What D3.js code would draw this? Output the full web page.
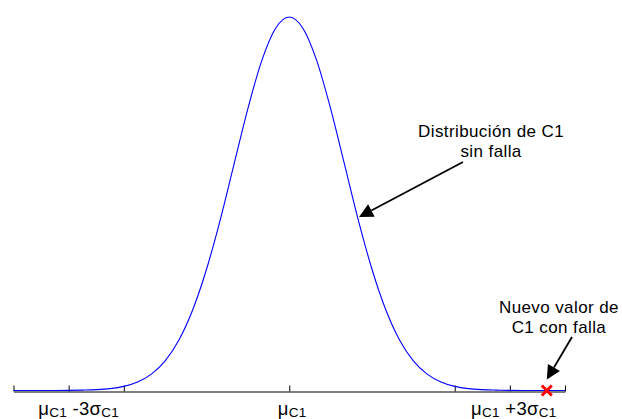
<!DOCTYPE html>
<html>
<head>
<meta charset="utf-8">
<script src="https://cdn.jsdelivr.net/npm/d3@7"></script>
<style>
  html, body { margin: 0; padding: 0; background: #fff; }
  svg { display: block; font-family: "Liberation Sans", Arial, sans-serif; }
</style>
</head>
<body>
<svg id="chart" width="622" height="419"></svg>
<script>
// Standardised value of C1 (in units of sigma) and its density
const zValues = [-5, -4.75, -4.5, -4.25, -4, -3.75, -3.5, -3.25, -3, -2.75, -2.5, -2.25, -2, -1.75, -1.5, -1.25, -1, -0.75, -0.5, -0.25,
                 0, 0.25, 0.5, 0.75, 1, 1.25, 1.5, 1.75, 2, 2.25, 2.5, 2.75, 3, 3.25, 3.5, 3.75, 4, 4.25, 4.5, 4.75, 5];
const densityValues = [0, 0, 0, 0, 0.0001, 0.0004, 0.0009, 0.0020, 0.0044, 0.0091, 0.0175, 0.0317, 0.0540, 0.0863, 0.1295, 0.1826, 0.2420, 0.3011, 0.3521, 0.3867,
                       0.3989, 0.3867, 0.3521, 0.3011, 0.2420, 0.1826, 0.1295, 0.0863, 0.0540, 0.0317, 0.0175, 0.0091, 0.0044, 0.0020, 0.0009, 0.0004, 0.0001, 0, 0, 0, 0];

// Axis
const xDomain = [-5, 5];
const yDomain = [0, 0.4];
const tickValues = [-5, -4, -3, 0, 3, 4, 5];
// tick captions: [main symbol, subscript, operator+number, symbol, subscript]
const tickLabelAt = [-4, 0, 4];
const tickLabelParts = [
  ["μ", "C1", " -3σ", "C1"],
  ["μ", "C1", "", ""],
  ["μ", "C1", " +3σ", "C1"]
];

// Faulty measurement of C1
const faultValue = 4.67;

// Annotations
const curveNote = { lines: ["Distribución de C1", "sin falla"], x: 3.66, y: 0.2708, from: [3.15, 0.244], to: [1.265, 0.1853] };
const faultNote = { lines: ["Nuevo valor de", "C1 con falla"], x: 4.89, y: 0.0827, from: [5.127, 0.0571] };

const svg = d3.select("#chart");

const x = d3.scaleLinear().domain(xDomain).range([13.5, 565]);
const y = d3.scaleLinear().domain(yDomain).range([390.5, 16]);

// x axis with inward ticks
const axisG = svg.append("g")
  .attr("transform", "translate(0,391.5)")
  .call(d3.axisBottom(x).tickValues(tickValues).tickSizeInner(-6).tickSizeOuter(0).tickFormat(""));
axisG.select(".domain").attr("stroke", "#000").attr("stroke-width", 1);
axisG.selectAll(".tick line").attr("stroke", "#000").attr("stroke-width", 1);

// density curve
const line = d3.line()
  .x((d, i) => x(zValues[i]))
  .y(d => y(d))
  .curve(d3.curveMonotoneX);

svg.append("path")
  .datum(densityValues)
  .attr("d", line)
  .attr("fill", "none")
  .attr("stroke", "#0000ff")
  .attr("stroke-width", 1.1);

// tick captions with subscripts
const labelNudge = [10, 3, 4];
tickLabelAt.forEach((v, i) => {
  const p = tickLabelParts[i];
  const t = svg.append("text")
    .attr("x", x(v) + labelNudge[i])
    .attr("y", 415)
    .attr("text-anchor", "middle")
    .attr("font-size", 18.5)
    .attr("letter-spacing", 0.3)
    .attr("fill", "#000");
  t.append("tspan").text(p[0]);
  t.append("tspan").attr("font-size", 13.5).attr("dy", 2).text(p[1]);
  if (p[2]) {
    t.append("tspan").attr("dy", -2).text(p[2]);
    t.append("tspan").attr("font-size", 13.5).attr("dy", 2).text(p[3]);
  }
});

// arrow helper: black line with filled triangular head at the tip
function arrow(x0, y0, x1, y1) {
  const dx = x0 - x1, dy = y0 - y1;
  const len = Math.hypot(dx, dy);
  const ux = dx / len, uy = dy / len;
  const L = 14, W = 7;
  const bx = x1 + ux * L, by = y1 + uy * L;
  svg.append("line")
    .attr("x1", x0).attr("y1", y0).attr("x2", bx).attr("y2", by)
    .attr("stroke", "#000").attr("stroke-width", 1.8);
  svg.append("path")
    .attr("d", `M${x1},${y1}L${bx - uy * W},${by + ux * W}L${bx + uy * W},${by - ux * W}Z`)
    .attr("fill", "#000");
}

function note(n) {
  const t = svg.append("text")
    .attr("text-anchor", "middle")
    .attr("font-size", 17)
    .attr("letter-spacing", 0.4)
    .attr("fill", "#000");
  n.lines.forEach((s, i) => {
    t.append("tspan").attr("x", x(n.x)).attr("y", y(n.y) + i * 20).text(s);
  });
}

note(curveNote);
arrow(x(curveNote.from[0]), y(curveNote.from[1]), x(curveNote.to[0]), y(curveNote.to[1]));

note(faultNote);
arrow(x(faultNote.from[0]), y(faultNote.from[1]), x(faultValue), y(0) - 11);

// fault marker (x)
const m = 5;
svg.append("path")
  .attr("d", `M${x(faultValue) - m},${y(0) - m}L${x(faultValue) + m},${y(0) + m}M${x(faultValue) - m},${y(0) + m}L${x(faultValue) + m},${y(0) - m}`)
  .attr("stroke", "#ff0000")
  .attr("stroke-width", 3)
  .attr("fill", "none");
</script>
</body>
</html>
